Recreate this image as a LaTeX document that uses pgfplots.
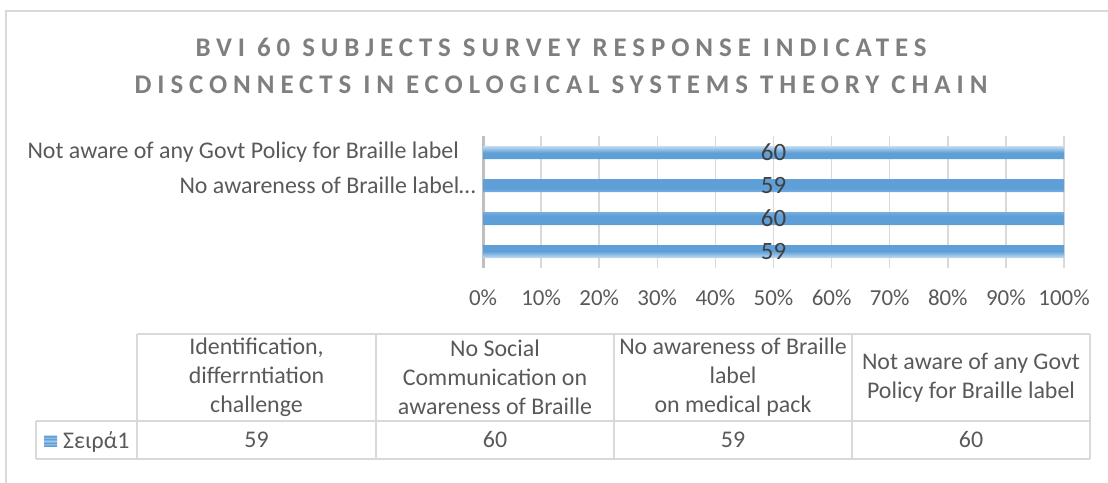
\documentclass[border=0pt]{standalone}
\usepackage{fontspec}
\setmainfont{Carlito}
\usepackage{pgfplots}
\pgfplotsset{compat=1.18}
\definecolor{bA}{HTML}{C5DCF1}
\definecolor{bB}{HTML}{5F9FD8}
\definecolor{bC}{HTML}{A4C8EA}
\definecolor{tgray}{HTML}{595959}
\definecolor{dgray}{HTML}{404040}
\definecolor{ttl}{HTML}{7F7F7F}
\definecolor{lgray}{HTML}{D9D9D9}
\definecolor{agray}{HTML}{BFBFBF}
\pgfdeclareverticalshading{barstripes}{100bp}{%
color(0bp)=(bA); color(25bp)=(bA); color(28bp)=(bB); color(32bp)=(bB); color(36bp)=(bC);
color(40bp)=(bB); color(44bp)=(bB); color(50bp)=(bA); color(56bp)=(bB); color(60bp)=(bB);
color(64bp)=(bC); color(68bp)=(bB); color(72bp)=(bB); color(75bp)=(bA); color(100bp)=(bA)}
\begin{document}
\begin{tikzpicture}
\useasboundingbox (0,0) rectangle (1108bp,-483bp);
\draw[lgray, line width=1.5bp] (6bp,-483bp) -- (6bp,-11bp) -- (1108bp,-11bp);
% title
\node[font=\fontsize{27}{37}\selectfont\bfseries\addfontfeatures{LetterSpace=22}, text=ttl, align=center] at (561bp,-66bp)
 {BVI 60 SUBJECTS SURVEY RESPONSE INDICATES\\DISCONNECTS IN ECOLOGICAL SYSTEMS THEORY CHAIN};
\begin{axis}[
  scale only axis,
  width=581bp, height=132bp,
  at={(483bp,-268bp)}, anchor=south west,
  xmin=0, xmax=100, ymin=0.5, ymax=4.5,
  xtick={0,10,...,100},
  xticklabels={0\%,10\%,20\%,30\%,40\%,50\%,60\%,70\%,80\%,90\%,100\%},
  ytick={3,4},
  yticklabels={No awareness of Braille label…, Not aware of any Govt Policy for Braille label\kern17bp},
  /pgf/number format/assume math mode=true,
  tick label style={font=\fontsize{23}{27}\selectfont, text=tgray, inner sep=0pt},
  yticklabel style={font=\fontsize{24}{28}\selectfont, xshift=-7bp},
  xticklabel style={yshift=-22bp},
  major tick length=0pt,
  xmajorgrids, grid style={lgray, line width=1.5bp},
  axis lines*=left,
  axis line style={-},
  x axis line style={draw=none},
  y axis line style={draw=agray, line width=3bp},
  clip=false,
  legend style={at={(-0.7556,-1.3106)}, anchor=west, draw=none, fill=none, inner sep=0pt,
     font=\fontsize{24}{28}\selectfont, text=tgray, nodes={inner sep=0pt}, column sep=6bp},
  legend image code/.code={\shade[shading=barstripes] (0bp,-6bp) rectangle (13bp,6bp);},
]
\addplot[xbar, bar width=13bp, bar shift=0pt, draw=none, shading=barstripes]
  coordinates {(100,1) (100,2) (100,3) (100,4)};
\addlegendentry{Σειρά1}
\addplot[draw=none, mark=none, forget plot, nodes near coords, point meta=explicit symbolic,
  every node near coord/.append style={anchor=center, font=\fontsize{25}{29}\selectfont, text=dgray, inner sep=0pt}]
  coordinates {(50,1) [59] (50,2) [60] (50,3) [59] (50,4) [60]};
\end{axis}
% data table
\begin{scope}[lgray, line width=1.5bp]
\draw (137bp,-334bp) -- (1090bp,-334bp);
\draw (36bp,-421bp) -- (1090bp,-421bp);
\draw (36bp,-459bp) -- (1090bp,-459bp);
\draw (36bp,-421bp) -- (36bp,-459bp);
\foreach \x in {137,376,614,852,1090} \draw (\x bp,-334bp) -- (\x bp,-459bp);
\end{scope}
\begin{scope}[every node/.style={font=\fontsize{24}{29}\selectfont, text=tgray, align=center, inner sep=0pt}]
\node at (256.5bp,-377.5bp) {Identification,\\differrntiation\\challenge};
\node at (495bp,-377.5bp) {No Social\\Communication on\\awareness of Braille};
\node at (733bp,-377.5bp) {No awareness of Braille\\label\\on medical pack};
\node at (971bp,-377.5bp) {Not aware of any Govt\\Policy for Braille label};
\node at (256.5bp,-440bp) {59};
\node at (495bp,-440bp) {60};
\node at (733bp,-440bp) {59};
\node at (971bp,-440bp) {60};
\end{scope}
\end{tikzpicture}
\end{document}
